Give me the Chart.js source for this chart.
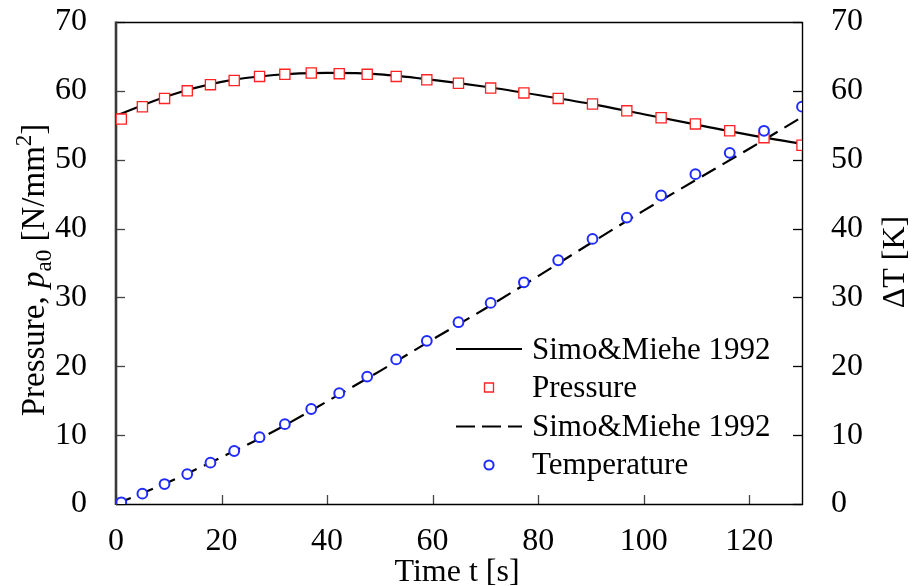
<!DOCTYPE html>
<html>
<head>
<meta charset="utf-8">
<script src="https://cdn.jsdelivr.net/npm/chart.js@4.4.0/dist/chart.umd.min.js"></script>
<style>
  html, body { margin: 0; padding: 0; background: #ffffff; }
  canvas { display: block; }
</style>
</head>
<body>
<canvas id="c" width="914" height="586"></canvas>
<script>
// ---- data ----
const markerTime = [1, 5, 9.2, 13.5, 17.9, 22.4, 27.2, 32, 37, 42.3, 47.6, 53.1, 58.9, 64.9, 71, 77.3, 83.8, 90.3, 96.8, 103.3, 109.8, 116.3, 122.8, 130];
const pressureMeasured = [55.9, 57.7, 58.9, 60.0, 60.9, 61.5, 62.1, 62.4, 62.6, 62.5, 62.4, 62.1, 61.6, 61.1, 60.4, 59.7, 58.9, 58.1, 57.1, 56.1, 55.2, 54.2, 53.2, 52.1];
const temperatureMeasured = [0.25, 1.5, 2.9, 4.35, 6.0, 7.7, 9.7, 11.6, 13.8, 16.1, 18.5, 21.0, 23.7, 26.4, 29.2, 32.2, 35.4, 38.5, 41.6, 44.8, 47.9, 51.0, 54.2, 57.7];
const simTime = [0, 10, 20, 30, 40, 50, 60, 70, 80, 90, 100, 110, 120, 130];
const simPressure = [56.4, 59.3, 61.3, 62.3, 62.6, 62.4, 61.6, 60.6, 59.4, 58.1, 56.6, 55.1, 53.6, 52.3];
const simTemperature = [0, 3.2, 6.8, 10.6, 14.9, 19.3, 23.9, 28.4, 33.1, 37.9, 42.6, 47.1, 51.6, 56.2];

const xTicks = [0, 20, 40, 60, 80, 100, 120];
const yTicks = [0, 10, 20, 30, 40, 50, 60, 70];
const y2Ticks = [0, 10, 20, 30, 40, 50, 60, 70];

const seriesLabels = ['Simo&Miehe 1992', 'Pressure', 'Simo&Miehe 1992', 'Temperature'];
const xTitle = 'Time t [s]';
const yTitleParts = [
  { text: 'Pressure, ', style: 'normal', scale: 1, shift: 0 },
  { text: 'p', style: 'italic', scale: 1, shift: 0 },
  { text: 'a0', style: 'normal', scale: 0.7, shift: 0.22 },
  { text: ' [N/mm', style: 'normal', scale: 1, shift: 0 },
  { text: '2', style: 'normal', scale: 0.7, shift: -0.4 },
  { text: ']', style: 'normal', scale: 1, shift: 0 }
];
const y2Title = '\u0394T [K]';

const FONT = '"Liberation Serif", "Times New Roman", serif';
const RED = '#ff2222';
const BLUE = '#1f2bff';

function pts(xs, ys) { return xs.map((x, i) => ({ x: x, y: ys[i] })); }

const decorPlugin = {
  id: 'decor',
  beforeDatasetsDraw(chart) {
    const { ctx, chartArea: a, scales } = chart;
    ctx.save();
    const tl = 9;
    // tick marks (inward)
    ctx.lineWidth = 1.3;
    ctx.strokeStyle = '#444444';
    xTicks.forEach(v => {
      const px = Math.round(scales.x.getPixelForValue(v)) + 0.5;
      ctx.beginPath(); ctx.moveTo(px, a.bottom); ctx.lineTo(px, a.bottom - tl); ctx.stroke();
    });
    yTicks.forEach(v => {
      const py = Math.round(scales.y.getPixelForValue(v)) + 0.5;
      ctx.beginPath(); ctx.moveTo(a.left, py); ctx.lineTo(a.left + tl, py); ctx.stroke();
    });
    ctx.strokeStyle = '#000000';
    y2Ticks.forEach(v => {
      const py = Math.round(scales.y1.getPixelForValue(v)) + 0.5;
      ctx.beginPath(); ctx.moveTo(a.right, py); ctx.lineTo(a.right - tl, py); ctx.stroke();
    });
    // frame
    ctx.strokeStyle = '#000000';
    ctx.lineWidth = 1.4;
    ctx.beginPath();
    ctx.moveTo(a.left, a.top + 0.5); ctx.lineTo(a.right + 0.5, a.top + 0.5);
    ctx.lineTo(a.right + 0.5, a.bottom + 0.5); ctx.lineTo(a.left, a.bottom + 0.5);
    ctx.stroke();
    ctx.strokeStyle = '#3a3a3a';
    ctx.lineWidth = 2.6;
    ctx.beginPath(); ctx.moveTo(a.left, a.top - 0.5); ctx.lineTo(a.left, a.bottom + 1); ctx.stroke();
    ctx.restore();
  },
  afterDraw(chart) {
    const { ctx } = chart;
    ctx.save();
    ctx.fillStyle = '#000000';
    // x title
    ctx.font = '32px ' + FONT;
    ctx.textAlign = 'center';
    ctx.textBaseline = 'alphabetic';
    ctx.fillText(xTitle, 457, 581);
    // left y title (rich text, rotated)
    const size = 33;
    const widths = yTitleParts.map(p => {
      ctx.font = p.style + ' ' + (size * p.scale) + 'px ' + FONT;
      return ctx.measureText(p.text).width;
    });
    const total = widths.reduce((s, w) => s + w, 0);
    ctx.save();
    ctx.translate(44, 270);
    ctx.rotate(-Math.PI / 2);
    ctx.textAlign = 'left';
    let x = -total / 2;
    yTitleParts.forEach((p, i) => {
      ctx.font = p.style + ' ' + (size * p.scale) + 'px ' + FONT;
      ctx.fillText(p.text, x, p.shift * size);
      x += widths[i];
    });
    ctx.restore();
    // right y title
    ctx.save();
    ctx.translate(904, 262);
    ctx.rotate(-Math.PI / 2);
    ctx.textAlign = 'center';
    ctx.font = '32px ' + FONT;
    ctx.fillText(y2Title, 0, 0);
    ctx.restore();
    // legend
    const lx0 = 456, lx1 = 522, mx = 489, tx = 532;
    const rowsY = [349, 387.5, 426.5, 465];
    const baseY = [359, 397, 436, 474];
    ctx.lineWidth = 2.2;
    ctx.strokeStyle = '#000000';
    ctx.beginPath(); ctx.moveTo(lx0, rowsY[0]); ctx.lineTo(lx1, rowsY[0]); ctx.stroke();
    ctx.setLineDash([19, 7]);
    ctx.beginPath(); ctx.moveTo(lx0, rowsY[2]); ctx.lineTo(lx1, rowsY[2]); ctx.stroke();
    ctx.setLineDash([]);
    ctx.lineWidth = 1.3;
    ctx.strokeStyle = RED;
    ctx.fillStyle = '#ffffff';
    ctx.beginPath(); ctx.rect(mx - 4.5, rowsY[1] - 4.5, 9, 9); ctx.fill(); ctx.stroke();
    ctx.lineWidth = 2;
    ctx.strokeStyle = BLUE;
    ctx.beginPath(); ctx.arc(mx, rowsY[3], 4.6, 0, Math.PI * 2); ctx.fill(); ctx.stroke();
    ctx.fillStyle = '#000000';
    ctx.font = '31px ' + FONT;
    ctx.textAlign = 'left';
    ctx.textBaseline = 'alphabetic';
    seriesLabels.forEach((t, i) => ctx.fillText(t, tx, baseY[i]));
    ctx.restore();
  }
};

function fixV(width) {
  return s => { s.width = width; s.paddingTop = 0; s.paddingBottom = 0; };
}

new Chart(document.getElementById('c'), {
  type: 'scatter',
  data: {
    datasets: [
      {
        label: seriesLabels[0], data: pts(simTime, simPressure), yAxisID: 'y',
        showLine: true, borderColor: '#000000', borderWidth: 2.2, pointRadius: 0,
        cubicInterpolationMode: 'monotone', fill: false, order: 3
      },
      {
        label: seriesLabels[1], data: pts(markerTime, pressureMeasured), yAxisID: 'y',
        showLine: false, pointStyle: 'rect', pointRadius: 7.2, borderColor: RED,
        backgroundColor: '#ffffff', borderWidth: 1.3, order: 1
      },
      {
        label: seriesLabels[2], data: pts(simTime, simTemperature), yAxisID: 'y1',
        showLine: true, borderColor: '#000000', borderWidth: 2.2, borderDash: [16, 8],
        pointRadius: 0, cubicInterpolationMode: 'monotone', fill: false, order: 2
      },
      {
        label: seriesLabels[3], data: pts(markerTime, temperatureMeasured), yAxisID: 'y1',
        showLine: false, pointStyle: 'circle', pointRadius: 4.9, borderColor: BLUE,
        backgroundColor: '#ffffff', borderWidth: 2, order: 0
      }
    ]
  },
  options: {
    responsive: false,
    devicePixelRatio: 1,
    animation: false,
    layout: { padding: { top: 22, left: 0, right: 0, bottom: 0 } },
    plugins: { legend: { display: false }, tooltip: { enabled: false } },
    scales: {
      x: {
        type: 'linear', position: 'bottom', min: 0, max: 130,
        afterBuildTicks: s => { s.ticks = xTicks.map(v => ({ value: v })); },
        afterFit: s => { s.height = 82; s.paddingLeft = 0; s.paddingRight = 0; },
        grid: { display: false, drawTicks: false },
        border: { display: false },
        ticks: { font: { family: FONT, size: 32 }, color: '#000000', padding: 18, maxRotation: 0, autoSkip: false }
      },
      y: {
        type: 'linear', position: 'left', min: 0, max: 70,
        afterBuildTicks: s => { s.ticks = yTicks.map(v => ({ value: v })); },
        afterFit: fixV(116),
        grid: { display: false, drawTicks: false },
        border: { display: false },
        ticks: { font: { family: FONT, size: 32 }, color: '#000000', padding: 29, autoSkip: false }
      },
      y1: {
        type: 'linear', position: 'right', min: 0, max: 70,
        afterBuildTicks: s => { s.ticks = y2Ticks.map(v => ({ value: v })); },
        afterFit: fixV(112),
        grid: { display: false, drawTicks: false },
        border: { display: false },
        ticks: { font: { family: FONT, size: 32 }, color: '#000000', padding: 29, autoSkip: false }
      }
    }
  },
  plugins: [decorPlugin]
});
</script>
</body>
</html>
